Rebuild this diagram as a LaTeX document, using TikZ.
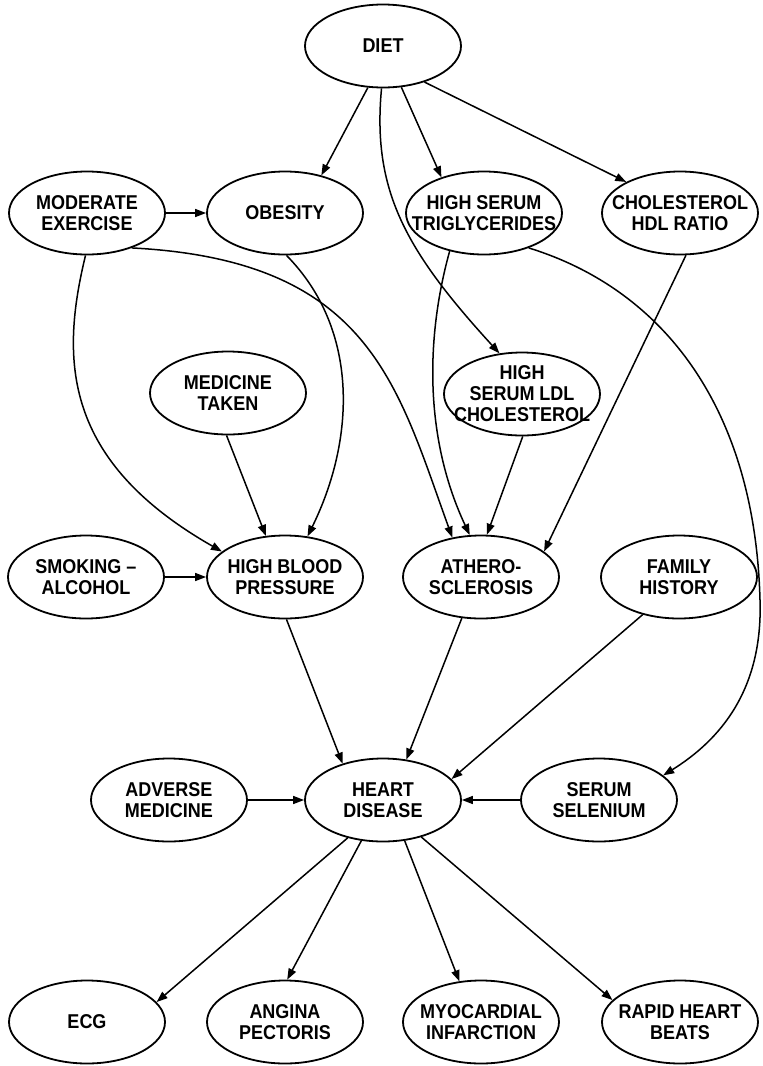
\documentclass[tikz,border=0pt]{standalone}
\usepackage{fontspec}
\newfontfamily\lab{Liberation Sans}[FakeStretch=0.9]
\usetikzlibrary{shapes.geometric,arrows.meta}
\begin{document}
\begin{tikzpicture}[x=1pt,y=-1pt,
  ell/.style={draw, ellipse, line width=1.8pt, minimum width=156pt, minimum height=83pt, inner sep=0pt},
  txt/.style={font=\lab\bfseries\fontsize{20}{21}\selectfont, align=center, inner sep=0pt},
  arr/.style={-{Triangle[length=11pt,width=8pt]}, line width=1.5pt}]
\fill[white] (0,0) rectangle (763,1066);
\useasboundingbox (0,0) rectangle (763,1066);

% top
\node[ell, label={[txt]center:DIET}] (diet) at (383,46) {};
% second row
\node[ell, label={[txt]center:{MODERATE\\EXERCISE}}] (exer) at (87,213) {};
\node[ell, label={[txt]center:OBESITY}] (obes) at (285,213) {};
\node[ell, label={[txt]center:{HIGH SERUM\\TRIGLYCERIDES}}] (trig) at (484,213) {};
\node[ell, label={[txt]center:{CHOLESTEROL\\HDL RATIO}}] (hdl) at (680,213) {};
% third row
\node[ell, label={[txt]center:{HIGH\\SERUM LDL\\CHOLESTEROL}}] (ldl) at (522,394) {};
\node[ell, label={[txt]center:{MEDICINE\\TAKEN}}] (med) at (228,393) {};
% fourth row
\node[ell, label={[txt]center:{SMOKING –\\ALCOHOL}}] (smok) at (86,577) {};
\node[ell, label={[txt]center:{HIGH BLOOD\\PRESSURE}}] (hbp) at (285,577) {};
\node[ell, label={[txt]center:{ATHERO-\\SCLEROSIS}}] (ath) at (481,577) {};
\node[ell, label={[txt]center:{FAMILY\\HISTORY}}] (fam) at (679,577) {};
% fifth row
\node[ell, label={[txt]center:{ADVERSE\\MEDICINE}}] (adv) at (169,800) {};
\node[ell, label={[txt]center:{HEART\\DISEASE}}] (hd) at (383,800) {};
\node[ell, label={[txt]center:{SERUM\\SELENIUM}}] (sel) at (599,800) {};
% bottom row
\node[ell, label={[txt]center:ECG}] (ecg) at (87,1022) {};
\node[ell, label={[txt]center:{ANGINA\\PECTORIS}}] (ang) at (285,1022) {};
\node[ell, label={[txt]center:{MYOCARDIAL\\INFARCTION}}] (myo) at (481,1022) {};
\node[ell, label={[txt]center:{RAPID HEART\\BEATS}}] (rap) at (680,1022) {};

% diet
\draw[arr] (diet.250) -- (obes.46);
\draw[arr] (diet.294) -- (trig.140);
\draw[arr] (diet.319) -- (hdl.150);
\draw[arr] (diet.268) .. controls (372,190) and (405,250) .. (ldl.119);
% exercise
\draw[arr] (exer) -- (obes);
\draw[arr] (exer.322) .. controls (370,260) and (397,385) .. (ath.126);
\draw[arr] (exer.268) .. controls (60,360) and (63,461) .. (hbp.158);
% blood pressure causes
\draw[arr] (obes.272) .. controls (360,330) and (355,440) .. (hbp.61);
\draw[arr] (med.268) -- (hbp.115);
\draw[arr] (smok) -- (hbp);
% atherosclerosis causes
\draw[arr] (trig.228) .. controls (425,340) and (425,440) .. (ath.105);
\draw[arr] (ldl.271) -- (ath.82);
\draw[arr] (hdl.278) -- (ath.22);
\draw[arr] (trig.322) .. controls (665,290) and (755,410) .. (760,600)
                      .. controls (763,690) and (720,740) .. (sel.21);
% heart disease causes
\draw[arr] (hbp.272) -- (hd.138);
\draw[arr] (ath.245) -- (hd.60);
\draw[arr] (fam.226) -- (hd.17);
\draw[arr] (adv) -- (hd);
\draw[arr] (sel) -- (hd);
% symptoms
\draw[arr] (hd.227) -- (ecg.16);
\draw[arr] (hd.242) -- (ang.87);
\draw[arr] (hd.298) -- (myo.118);
\draw[arr] (hd.316) -- (rap.162);
\end{tikzpicture}
\end{document}
